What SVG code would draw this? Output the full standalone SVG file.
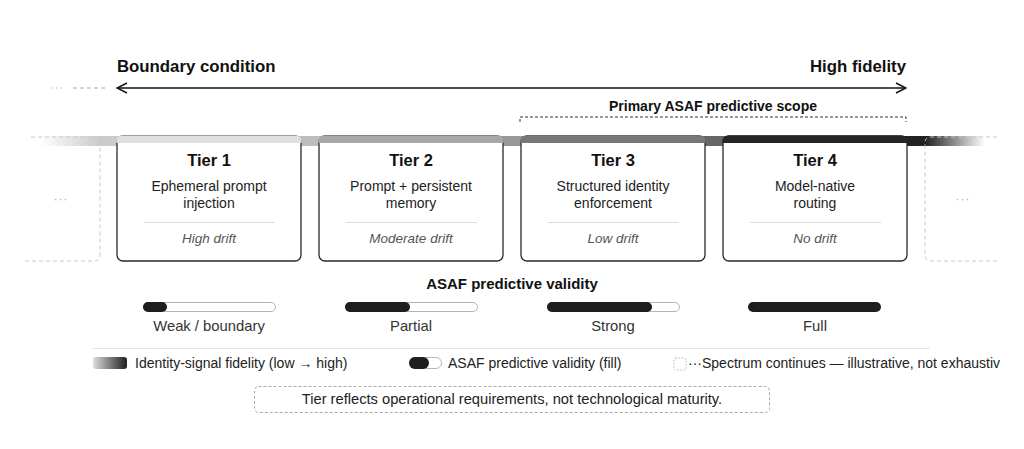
<svg xmlns="http://www.w3.org/2000/svg" width="1024" height="449" viewBox="0 0 1024 449">
<style>
text{font-family:"Liberation Sans",Arial,Helvetica,sans-serif;fill:#111}
.hdr{font-size:16.8px;font-weight:bold;fill:#111}
.scope{font-size:14px;font-weight:bold}
.tier{font-size:16.5px;font-weight:bold;text-anchor:middle}
.desc{font-size:14px;text-anchor:middle;fill:#222}
.drift{font-size:13.5px;font-style:italic;text-anchor:middle;fill:#555}
.box{fill:#fff;stroke:#2a2a2a;stroke-width:1.3}
.div{stroke:#dddddd;stroke-width:1}
.ghost{fill:none;stroke:#c8c8c8;stroke-width:1;stroke-dasharray:4 3}
.dots{font-size:12px;fill:#aaa;text-anchor:middle;letter-spacing:1px}
.track{fill:#fff;stroke:#b5b5b5;stroke-width:1}
.fill{fill:#1e1e1e}
.blabel{font-size:14.8px;text-anchor:middle;fill:#333}
.leg{font-size:14px;fill:#222}
</style>
<defs>
<linearGradient id="band" gradientUnits="userSpaceOnUse" x1="40" y1="0" x2="985" y2="0">
<stop offset="0" stop-color="#ffffff"/>
<stop offset="0.0635" stop-color="#cbcbcb"/>
<stop offset="0.169" stop-color="#cbcbcb"/>
<stop offset="0.169" stop-color="#bdbdbd"/>
<stop offset="0.392" stop-color="#bdbdbd"/>
<stop offset="0.392" stop-color="#999999"/>
<stop offset="0.606" stop-color="#999999"/>
<stop offset="0.606" stop-color="#666666"/>
<stop offset="0.82" stop-color="#666666"/>
<stop offset="0.82" stop-color="#222222"/>
<stop offset="0.937" stop-color="#222222"/>
<stop offset="1" stop-color="#ffffff"/>
</linearGradient>
<linearGradient id="legGrad" x1="0" y1="0" x2="1" y2="0">
<stop offset="0" stop-color="#dddddd"/>
<stop offset="1" stop-color="#1e1e1e"/>
</linearGradient>
<clipPath id="legClip"><rect x="0" y="340" width="1000" height="40"/></clipPath>
<marker id="chev" viewBox="0 0 12 12" refX="11" refY="6" markerWidth="12" markerHeight="12" markerUnits="userSpaceOnUse" orient="auto-start-reverse">
<path d="M1,1 L11,6 L1,11" fill="none" stroke="#111" stroke-width="1.5"/>
</marker>
</defs>

<g id="header">
<text class="hdr" x="117" y="72">Boundary condition</text>
<text class="hdr" x="906" y="72" text-anchor="end">High fidelity</text>
<text class="scope" x="713" y="111" text-anchor="middle">Primary ASAF predictive scope</text>
</g>

<g id="connectors">
<line x1="117" y1="88" x2="906" y2="88" stroke="#111" stroke-width="1.5" marker-start="url(#chev)" marker-end="url(#chev)"/>
<line x1="73" y1="88" x2="108" y2="88" stroke="#aaa" stroke-width="1" stroke-dasharray="4 3"/>
<line x1="52" y1="88" x2="63" y2="88" stroke="#aaa" stroke-width="1.2" stroke-dasharray="1.2 3"/>
<path d="M520,122 V117 H906 V122" fill="none" stroke="#333" stroke-width="1" stroke-dasharray="3 2"/>
</g>

<g id="band-strip">
<rect x="40" y="136" width="945" height="10" fill="url(#band)"/>
</g>

<g id="ghost-left">
<path class="ghost" d="M25,261 H94 Q100,261 100,255 V143 Q100,137 94,137 H30"/>
<text class="dots" x="61" y="203">···</text>
</g>
<g id="ghost-right">
<path class="ghost" d="M997,137 H931 Q925,137 925,143 V255 Q925,261 931,261 H997"/>
<text class="dots" x="963" y="203">···</text>
</g>

<g id="tier1">
<rect class="box" x="117" y="136" width="184" height="125" rx="6"/>
<path d="M116.4,143 V141.5 Q116.4,135.5 122.4,135.5 H295.6 Q301.6,135.5 301.6,141.5 V143 Z" fill="#e0e0e0"/>
<text class="tier" x="209" y="166">Tier 1</text>
<text class="desc" x="209" y="191">Ephemeral prompt</text>
<text class="desc" x="209" y="208">injection</text>
<line class="div" x1="144" y1="222.5" x2="275" y2="222.5"/>
<text class="drift" x="209" y="243">High drift</text>
</g>

<g id="tier2">
<rect class="box" x="319" y="136" width="184" height="125" rx="6"/>
<path d="M318.4,143 V141.5 Q318.4,135.5 324.4,135.5 H497.6 Q503.6,135.5 503.6,141.5 V143 Z" fill="#a8a8a8"/>
<text class="tier" x="411" y="166">Tier 2</text>
<text class="desc" x="411" y="191">Prompt + persistent</text>
<text class="desc" x="411" y="208">memory</text>
<line class="div" x1="346" y1="222.5" x2="477" y2="222.5"/>
<text class="drift" x="411" y="243">Moderate drift</text>
</g>

<g id="tier3">
<rect class="box" x="521" y="136" width="184" height="125" rx="6"/>
<path d="M520.4,143 V141.5 Q520.4,135.5 526.4,135.5 H699.6 Q705.6,135.5 705.6,141.5 V143 Z" fill="#777777"/>
<text class="tier" x="613" y="166">Tier 3</text>
<text class="desc" x="613" y="191">Structured identity</text>
<text class="desc" x="613" y="208">enforcement</text>
<line class="div" x1="548" y1="222.5" x2="679" y2="222.5"/>
<text class="drift" x="613" y="243">Low drift</text>
</g>

<g id="tier4">
<rect class="box" x="723" y="136" width="184" height="125" rx="6"/>
<path d="M722.4,143 V141.5 Q722.4,135.5 728.4,135.5 H901.6 Q907.6,135.5 907.6,141.5 V143 Z" fill="#262626"/>
<text class="tier" x="815" y="166">Tier 4</text>
<text class="desc" x="815" y="191">Model-native</text>
<text class="desc" x="815" y="208">routing</text>
<line class="div" x1="750" y1="222.5" x2="881" y2="222.5"/>
<text class="drift" x="815" y="243">No drift</text>
</g>

<g id="validity">
<text x="512" y="289" text-anchor="middle" style="font-size:15px;font-weight:bold">ASAF predictive validity</text>
<g id="bar1">
<rect class="track" x="143.5" y="302.5" width="132" height="9" rx="4.5"/>
<rect class="fill" x="143" y="302" width="24" height="10" rx="5"/>
<text class="blabel" x="209" y="331">Weak / boundary</text>
</g>
<g id="bar2">
<rect class="track" x="345.5" y="302.5" width="132" height="9" rx="4.5"/>
<rect class="fill" x="345" y="302" width="65" height="10" rx="5"/>
<text class="blabel" x="411" y="331">Partial</text>
</g>
<g id="bar3">
<rect class="track" x="547.5" y="302.5" width="132" height="9" rx="4.5"/>
<rect class="fill" x="547" y="302" width="105" height="10" rx="5"/>
<text class="blabel" x="613" y="331">Strong</text>
</g>
<g id="bar4">
<rect class="fill" x="748" y="302" width="133" height="10" rx="5"/>
<text class="blabel" x="815" y="331">Full</text>
</g>
</g>

<line x1="93" y1="348.5" x2="930" y2="348.5" stroke="#e6e6e6" stroke-width="1"/>

<g id="legend">
<rect x="93" y="357" width="34" height="12" rx="3" fill="url(#legGrad)"/>
<text class="leg" x="135" y="368">Identity-signal fidelity (low → high)</text>
<rect class="track" x="409.5" y="357.5" width="32" height="11" rx="5.5"/>
<rect class="fill" x="409" y="357" width="20" height="12" rx="6"/>
<text class="leg" x="448" y="368">ASAF predictive validity (fill)</text>
<rect x="674" y="358" width="12" height="12" rx="2" fill="none" stroke="#bbb" stroke-width="1" stroke-dasharray="1.5 1.5"/>
<text class="leg" x="688" y="368" clip-path="url(#legClip)">···Spectrum continues — illustrative, not exhaustive</text>
</g>

<g id="note">
<rect x="254.5" y="386.5" width="515" height="26" rx="4" fill="none" stroke="#aaa" stroke-width="1" stroke-dasharray="3 2"/>
<text x="512" y="404" text-anchor="middle" style="font-size:14.7px;fill:#222">Tier reflects operational requirements, not technological maturity.</text>
</g>
</svg>
